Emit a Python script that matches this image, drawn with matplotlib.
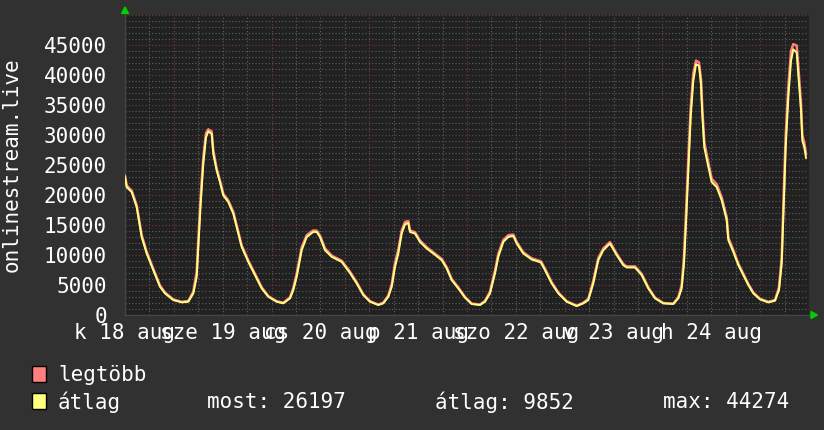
import matplotlib
matplotlib.use("Agg")
import matplotlib.pyplot as plt
from matplotlib.patches import Rectangle, Polygon
from matplotlib.ticker import FixedLocator

plt.rcParams['font.family'] = ['DejaVu Sans Mono', 'DejaVu Sans']

# ---- data (hours since start of graph) ----
hours = [0.0, 0.42, 1.65, 2.87, 4.10, 5.33, 6.95, 8.60, 9.82, 11.86, 13.93, 15.55,
         16.78, 17.61, 18.00, 18.59, 19.23, 19.89, 20.46, 21.29, 21.69, 22.52, 23.33,
         24.14, 25.37, 26.60, 27.83, 28.66, 30.28, 31.93, 33.58, 35.20, 37.26, 38.88,
         40.53, 41.34, 42.17, 43.40, 44.63, 46.25, 47.08, 47.89, 49.12, 50.77, 53.22,
         54.45, 55.26, 56.91, 58.53, 60.18, 62.21, 63.44, 64.67, 65.51, 66.32, 67.13,
         67.96, 68.77, 69.58, 70.00, 71.23, 72.46, 74.10, 75.72, 77.79, 79.02, 80.24,
         81.86, 83.51, 85.15, 87.19, 88.42, 89.65, 90.88, 91.69, 92.92, 94.14, 95.37,
         96.21, 97.83, 99.89, 102.17, 103.16, 104.80, 106.43, 108.49, 110.94, 112.57,
         113.80, 115.02, 116.25, 117.48, 119.12, 120.77, 122.39, 123.22, 125.26, 126.91,
         128.53, 130.18, 132.21, 134.67, 135.90, 136.73, 137.30, 137.79, 138.36, 138.94,
         139.58, 140.25, 140.98, 141.47, 141.79, 142.28, 143.12, 144.10, 145.33, 146.56,
         147.79, 148.19, 149.42, 150.65, 151.88, 153.11, 154.33, 155.98, 158.00, 159.65,
         160.63, 161.30, 161.69, 162.28, 162.92, 163.58, 164.14, 164.98, 165.37, 166.04,
         166.36, 166.85, 167.27]

avg_vals = [22970, 21300, 20480, 17990, 13000, 10250, 7470, 4700, 3600, 2490, 2100, 2210,
            3600, 6360, 11340, 18550, 25200, 29600, 30600, 30180, 26860, 24080, 22140,
            19930, 18820, 16890, 13570, 11340, 8850, 6640, 4430, 3040, 2210, 1940,
            2770, 4150, 6360, 10800, 13000, 13840, 13840, 13000, 10800, 9690, 8850,
            7750, 7000, 5260, 3320, 2210, 1660, 1940, 3040, 4700, 8020, 10250,
            13570, 15110, 15330, 13840, 13570, 12180, 11080, 10250, 9140, 7750, 5810,
            4430, 2900, 1830, 1660, 2210, 3600, 6930, 9690, 12180, 13000, 13170,
            11910, 10250, 9250, 8750, 7470, 5260, 3600, 2210, 1490, 1940,
            2490, 5260, 9140, 10800, 11910, 9970, 8300, 7920, 7920, 6640,
            4430, 2770, 1940, 1830, 2770, 4430, 8580, 15230, 24080, 32940,
            39030, 41800, 41525, 38490, 33500, 27960, 25200, 22140, 21310, 19100,
            15780, 12460, 10510, 8300, 6640, 4980, 3600, 2600, 2100, 2380,
            4150, 8580, 16330, 27960, 36260, 42350, 44274, 43740, 40150, 34050,
            29070, 27960, 26197]

max_vals = [23200, 21600, 20700, 18300, 13300, 10500, 7700, 4900, 3750, 2600, 2200, 2350,
            3900, 7200, 12500, 19800, 26200, 30300, 30950, 30600, 27400, 24400, 22400,
            20200, 19100, 17200, 13900, 11600, 9100, 6850, 4600, 3150, 2300, 2050,
            2950, 4500, 6900, 11300, 13300, 14100, 14050, 13250, 11100, 9900, 9050,
            7950, 7200, 5450, 3450, 2300, 1750, 2050, 3250, 5100, 8700, 10900,
            14100, 15500, 15650, 14100, 13800, 12400, 11300, 10450, 9350, 7950, 6000,
            4600, 3000, 1900, 1750, 2350, 3900, 7400, 10200, 12500, 13300, 13400,
            12150, 10450, 9450, 8950, 7700, 5450, 3750, 2300, 1550, 2050,
            2700, 5700, 9500, 11100, 12150, 10200, 8500, 8100, 8100, 6850,
            4600, 2900, 2000, 1900, 2950, 5000, 9800, 17000, 26000, 34500,
            40200, 42400, 42100, 39300, 34500, 28800, 25900, 22700, 21800, 19600,
            16300, 12900, 10800, 8550, 6850, 5150, 3750, 2700, 2200, 2500,
            4600, 9600, 18000, 30000, 38000, 44000, 45150, 44900, 41500, 35200,
            30000, 28700, 26900]

day_ticks = [0, 24, 48, 72, 96, 120, 144]
day_labels = ['k 18 aug', 'sze 19 aug', 'cs 20 aug', 'p 21 aug',
              'szo 22 aug', 'v 23 aug', 'h 24 aug']
y_ticks = [0, 5000, 10000, 15000, 20000, 25000, 30000, 35000, 40000, 45000]
y_label = 'onlinestream.live'
legend_names = ['legtöbb', 'átlag']
stat_last = 26197
stat_avg = 9852
stat_max = 44274

# ---- style ----
W, H = 824, 430
BG = '#313131'
CANVAS = '#212121'
RED = '#ff7f7f'
YEL = '#ffff80'
FS = 15

fig = plt.figure(figsize=(W / 100, H / 100), dpi=100, facecolor=BG)

def fx(x):
    return x / W

def fy(y):
    return 1 - y / H

L, R, T, B = 125, 809, 15, 315
ax = fig.add_axes([fx(L), fy(B), (R - L) / W, (B - T) / H])
ax.set_facecolor(CANVAS)
ax.set_xlim(0, 168)
ax.set_ylim(0, 50000)

# grids
for v in range(0, 50001, 1000):
    if v % 5000 == 0:
        continue
    ax.axhline(v, color='#606060', lw=0.8, ls=(0, (1, 2)), zorder=1)
for h in range(6, 168, 6):
    if h % 24 == 12:
        continue
    ax.axvline(h, color='#606060', lw=0.8, ls=(0, (1, 2)), zorder=1)
for v in range(5000, 50001, 5000):
    ax.axhline(v, color='#7a3a3a', lw=0.8, ls=(0, (1, 2)), zorder=2)
for h in range(12, 168, 24):
    ax.axvline(h, color='#7a3a3a', lw=0.8, ls=(0, (1, 2)), zorder=2)

ax.plot(hours, max_vals, color=RED, lw=1.8, zorder=3, solid_joinstyle='round')
ax.plot(hours, avg_vals, color=YEL, lw=1.4, zorder=4, solid_joinstyle='round')

ax.yaxis.set_major_locator(FixedLocator(y_ticks))
ax.set_yticklabels([str(v) for v in y_ticks])
ax.xaxis.set_major_locator(FixedLocator(day_ticks))
ax.set_xticklabels(day_labels)
ax.tick_params(axis='y', length=0, pad=13, labelsize=FS, labelcolor='white')
ax.tick_params(axis='x', length=0, pad=6, labelsize=FS, labelcolor='white')

for s in ['top', 'right']:
    ax.spines[s].set_visible(False)
for s in ['left', 'bottom']:
    ax.spines[s].set_color('#454545')
    ax.spines[s].set_linewidth(1.0)

fig.text(fx(12), fy(165), y_label, rotation=90, color='white', fontsize=FS,
         ha='center', va='center')

# green arrows
fig.add_artist(Polygon([(fx(121.5), fy(13.5)), (fx(128.5), fy(13.5)), (fx(125), fy(7))],
                       closed=True, transform=fig.transFigure, color='#00d000'))
fig.add_artist(Polygon([(fx(811), fy(311.5)), (fx(811), fy(318.5)), (fx(817.5), fy(315))],
                       closed=True, transform=fig.transFigure, color='#00d000'))

# legend
for (yc, col, name) in [(374, RED, legend_names[0]), (401, YEL, legend_names[1])]:
    fig.add_artist(Rectangle((fx(32), fy(yc + 8)), 14 / W, 16 / H, transform=fig.transFigure,
                             facecolor=col, edgecolor='black', lw=1.0))
    fig.text(fx(58), fy(yc + 1), name, color='white', fontsize=FS, ha='left', va='center')

fig.text(fx(207), fy(402), f'most: {stat_last}', color='white', fontsize=FS, ha='left', va='center')
fig.text(fx(435), fy(402), f'átlag: {stat_avg}', color='white', fontsize=FS, ha='left', va='center')
fig.text(fx(663), fy(402), f'max: {stat_max}', color='white', fontsize=FS, ha='left', va='center')

fig.savefig('out.png', dpi=100, facecolor=BG)
